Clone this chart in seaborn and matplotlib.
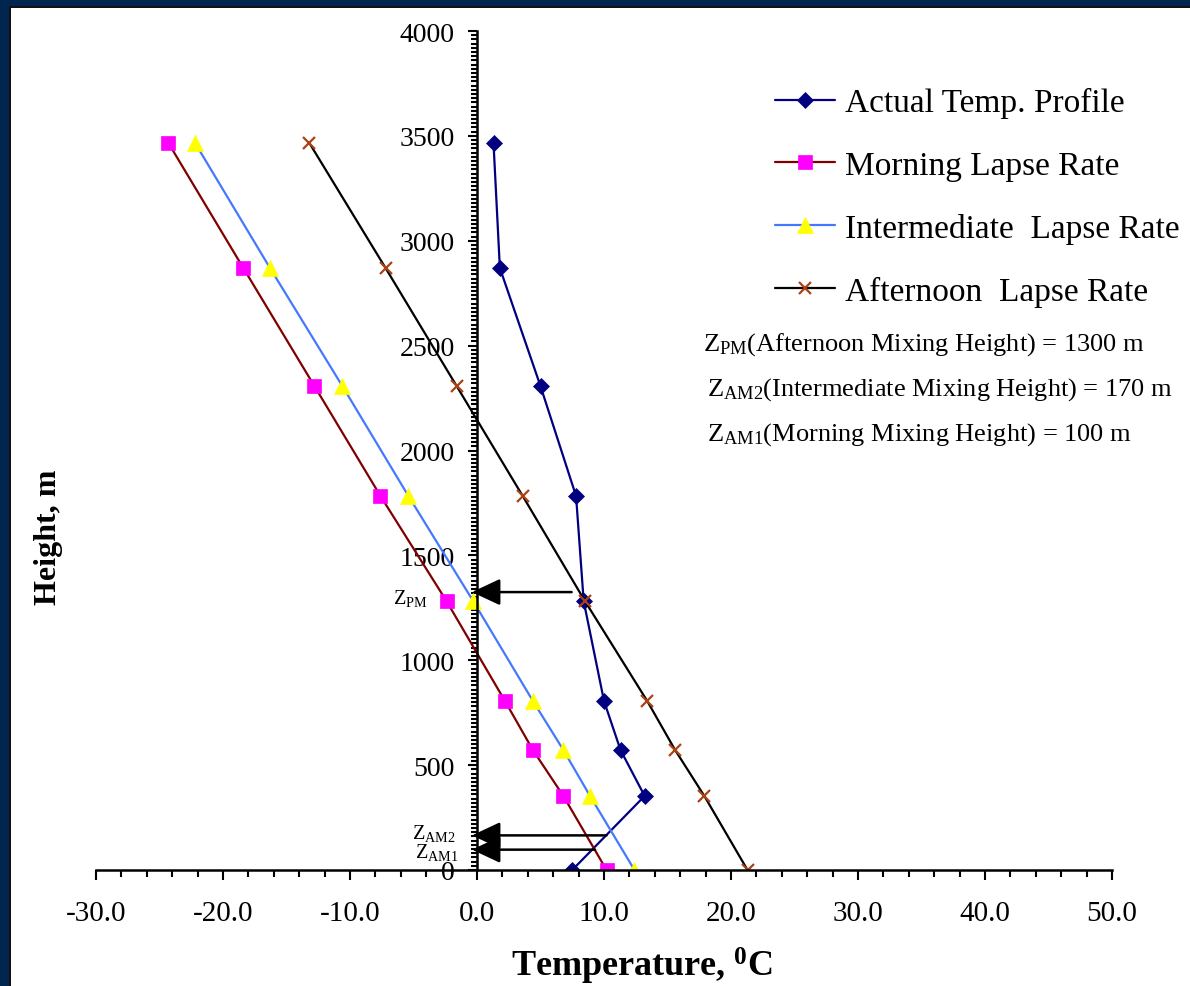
import matplotlib
matplotlib.use("Agg")
import matplotlib.pyplot as plt
from matplotlib.ticker import MultipleLocator, FuncFormatter
from matplotlib.patches import Rectangle
import seaborn as sns

# ---------------- data ----------------
heights = [0, 353, 572, 806, 1282, 1783, 2307, 2870, 3466]
actual_temp = [7.5, 13.2, 11.3, 10.0, 8.4, 7.8, 5.0, 1.8, 1.3]
morning_temp = [10.2, 6.8, 4.4, 2.2, -2.4, -7.6, -12.8, -18.4, -24.3]
intermediate_temp = [12.4, 8.9, 6.8, 4.4, -0.3, -5.4, -10.6, -16.3, -22.2]
afternoon_temp = [21.3, 17.9, 15.6, 13.4, 8.5, 3.6, -1.6, -7.2, -13.2]

series_names = ["Actual Temp. Profile", "Morning Lapse Rate",
                "Intermediate  Lapse Rate", "Afternoon  Lapse Rate"]

# mixing-height arrows
arrow_labels = [r"$\mathrm{Z}_{\mathrm{PM}}$", r"$\mathrm{Z}_{\mathrm{AM2}}$", r"$\mathrm{Z}_{\mathrm{AM1}}$"]
arrow_heights = [1325, 165, 97]
arrow_start_temp = [7.45, 10.2, 9.3]
arrow_tip_temp = -0.4
arrow_label_temp = [-3.9, -1.7, -1.5]
arrow_label_height = [1273, 152, 62]

notes = [r"$\mathrm{Z}_{\mathrm{PM}}$(Afternoon Mixing Height) = 1300 m",
         r"$\mathrm{Z}_{\mathrm{AM2}}$(Intermediate Mixing Height) = 170 m",
         r"$\mathrm{Z}_{\mathrm{AM1}}$(Morning Mixing Height) = 100 m"]
note_temp = [17.8, 18.1, 18.1]
note_height = [2480, 2266, 2052]

x_ticks_major = 10
x_ticks_minor = 2
y_ticks_major = 500
y_ticks_minor = 20

# ---------------- style ----------------
sns.set_style("white")
plt.rcParams["font.family"] = ["Liberation Serif", "DejaVu Serif"]
plt.rcParams["mathtext.fontset"] = "custom"
plt.rcParams["mathtext.rm"] = "Liberation Serif"
plt.rcParams["mathtext.bf"] = "Liberation Serif:bold"
plt.rcParams["mathtext.it"] = "Liberation Serif:italic"
plt.rcParams["axes.unicode_minus"] = False
plt.rcParams["text.color"] = "black"
plt.rcParams["axes.labelcolor"] = "black"

W, H = 1190, 987
fig = plt.figure(figsize=(W / 100, H / 100), dpi=100)
fig.patch.set_facecolor("white")
ax = fig.add_axes([96 / W, 116 / H, 1016 / W, 839 / H])
ax.set_facecolor("white")

navy = "#00264f"
styles = [
    dict(color="#000080", marker="D", markersize=8, markerfacecolor="#000080",
         markeredgecolor="#000080", markeredgewidth=0.5),
    dict(color="#800000", marker="s", markersize=9.5, markerfacecolor="#ff00ff",
         markeredgecolor="#ff00ff", markeredgewidth=0.5),
    dict(color="#4479ff", marker="^", markersize=11, markerfacecolor="#ffff00",
         markeredgecolor="#ffff00", markeredgewidth=0.5),
    dict(color="black", marker="x", markersize=8, markerfacecolor="#a84414",
         markeredgecolor="#a84414", markeredgewidth=1.6),
]
all_temps = [actual_temp, morning_temp, intermediate_temp, afternoon_temp]
for temps, name, st in zip(all_temps, series_names, styles):
    sns.lineplot(x=temps, y=heights, sort=False, estimator=None, ax=ax,
                 linewidth=1.6, label=name, **st)

# arrows + labels
for lab, h, xs, lt, lh in zip(arrow_labels, arrow_heights, arrow_start_temp,
                              arrow_label_temp, arrow_label_height):
    ax.annotate("", xy=(arrow_tip_temp, h), xytext=(xs, h),
                arrowprops=dict(arrowstyle="-|>,head_length=17.5,head_width=8.2",
                                mutation_scale=1, lw=1.8, color="black",
                                shrinkA=0, shrinkB=0), zorder=5)
    ax.text(lt, lh, lab, ha="right", va="baseline", fontsize=14.5, color="black")

for txt, t, h in zip(notes, note_temp, note_height):
    ax.text(t, h, txt, ha="left", va="baseline", fontsize=19, color="black")

# axes
ax.set_xlim(-30, 50)
ax.set_ylim(0, 4000)
ax.spines["left"].set_position(("data", 0))
ax.spines["top"].set_visible(False)
ax.spines["right"].set_visible(False)
for s in ("left", "bottom"):
    ax.spines[s].set_linewidth(1.8)
    ax.spines[s].set_color("black")
ax.xaxis.set_major_locator(MultipleLocator(x_ticks_major))
ax.xaxis.set_minor_locator(MultipleLocator(x_ticks_minor))
ax.yaxis.set_major_locator(MultipleLocator(y_ticks_major))
ax.yaxis.set_minor_locator(MultipleLocator(y_ticks_minor))
ax.xaxis.set_major_formatter(FuncFormatter(lambda v, p: f"{v:.1f}"))
ax.yaxis.set_major_formatter(FuncFormatter(lambda v, p: f"{v:.0f}"))
ax.tick_params(axis="x", which="both", bottom=True, top=False)
ax.tick_params(axis="y", which="both", left=True, right=False)
ax.tick_params(axis="x", which="major", direction="out", length=7.5, width=1.5,
               labelsize=21, pad=14.3, colors="black")
ax.tick_params(axis="x", which="minor", direction="out", length=5, width=1.5,
               colors="black")
ax.tick_params(axis="y", which="major", direction="out", length=6.5, width=1.5,
               labelsize=20, pad=9.6, colors="black")
ax.tick_params(axis="y", which="minor", direction="out", length=4.3, width=1.5,
               colors="black")
ax.grid(False)

ax.set_xlabel(r"Temperature, $^{\mathbf{0}}$C", fontsize=26, fontweight="bold")
ax.xaxis.set_label_coords(0.537, -0.1135)
ax.xaxis.label.set_va("center")
ax.set_ylabel("Height, m", fontsize=23, fontweight="bold")
ax.yaxis.set_label_coords(-0.047, 0.398)
ax.yaxis.label.set_va("center")

ax.legend(loc="upper left", bbox_to_anchor=(0.6683, 0.933), frameon=False,
          fontsize=24, handlelength=1.8, handletextpad=0.3, labelspacing=0.96,
          borderpad=0, borderaxespad=0)

# navy frame (top and left)
fig.patches.append(Rectangle((0, 1 - 6.5 / H), 1, 6.5 / H, transform=fig.transFigure,
                             facecolor=navy, edgecolor="none", zorder=10))
fig.patches.append(Rectangle((0, 0), 9 / W, 1, transform=fig.transFigure,
                             facecolor=navy, edgecolor="none", zorder=10))
fig.patches.append(Rectangle((9 / W, 0), 2 / W, 1 - 6.5 / H, transform=fig.transFigure,
                             facecolor="#111111", edgecolor="none", zorder=10))
fig.patches.append(Rectangle((9 / W, 1 - 8.5 / H), 1, 2 / H, transform=fig.transFigure,
                             facecolor="#111111", edgecolor="none", zorder=10))

fig.savefig("out.png", dpi=100)
